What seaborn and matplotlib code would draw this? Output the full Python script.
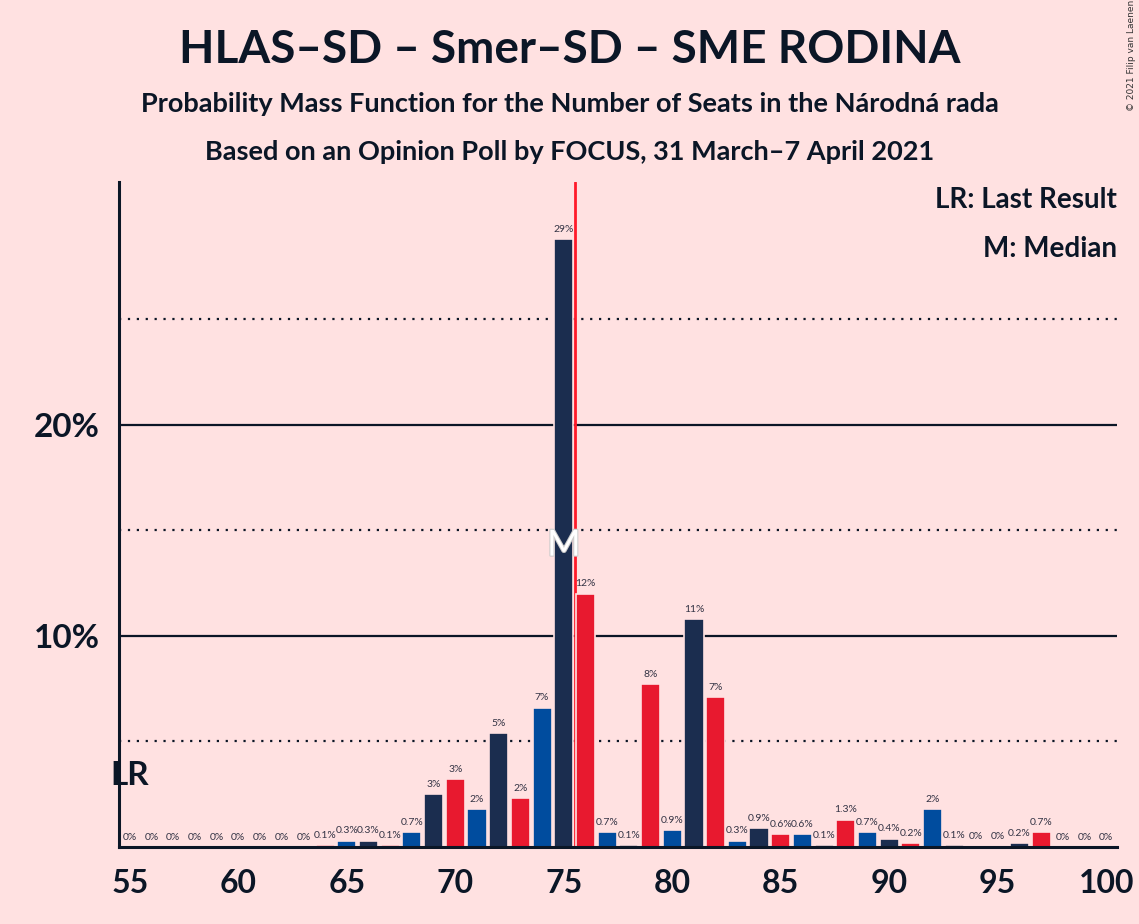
import matplotlib
matplotlib.use("Agg")
import matplotlib.pyplot as plt
import seaborn as sns
import pandas as pd
import matplotlib.patheffects as pe

seats = list(range(55, 101))
probs = [0, 0, 0, 0, 0, 0, 0, 0, 0, 0.1,
         0.3, 0.3, 0.1, 0.7, 2.5, 3.2, 1.8, 5.4, 2.3, 6.6,
         28.8, 12.0, 0.7, 0.1, 7.7, 0.8, 10.8, 7.1, 0.3, 0.9,
         0.6, 0.6, 0.1, 1.3, 0.7, 0.4, 0.2, 1.8, 0.1, 0.02,
         0.02, 0.2, 0.7, 0, 0, 0]
labels = ["0%", "0%", "0%", "0%", "0%", "0%", "0%", "0%", "0%", "0.1%",
          "0.3%", "0.3%", "0.1%", "0.7%", "3%", "3%", "2%", "5%", "2%", "7%",
          "29%", "12%", "0.7%", "0.1%", "8%", "0.9%", "11%", "7%", "0.3%", "0.9%",
          "0.6%", "0.6%", "0.1%", "1.3%", "0.7%", "0.4%", "0.2%", "2%", "0.1%", "0%",
          "0%", "0.2%", "0.7%", "0%", "0%", "0%"]
median_seat = 75
last_result_seat = 55
xtick_values = [55, 60, 65, 70, 75, 80, 85, 90, 95, 100]
ytick_values = [10, 20]

NAVY = "#1B2D4F"
RED = "#E8192F"
BLUE = "#004C9E"
BG = "#FFE1E1"
TXT = "#0B1626"
color_cycle = {0: NAVY, 1: RED, 2: BLUE}

sns.set_theme(style="white")
plt.rcParams["font.family"] = ["Lato", "DejaVu Sans"]

df = pd.DataFrame({"seat": [str(s) for s in seats], "p": probs})
palette = {str(s): color_cycle[s % 3] for s in seats}

fig = plt.figure(figsize=(11.39, 9.24), dpi=100, facecolor=BG)
ax = fig.add_axes([0.1045, 0.0833, 0.8762, 0.7197])
ax.set_facecolor(BG)

# gridlines
for y in [5, 15, 25]:
    ax.axhline(y, color=TXT, lw=1.6, ls=(0, (1, 3)), zorder=0)
for y in [10, 20]:
    ax.axhline(y, color=TXT, lw=1.6, zorder=0)

order = [str(s) for s in seats]
sns.barplot(data=df, x="seat", y="p", hue="seat", palette=palette, order=order,
            hue_order=order, legend=False, width=0.88, saturation=1,
            edgecolor=BG, linewidth=1.2, ax=ax, zorder=2)

# median line
mi = seats.index(median_seat)
ax.axvline(mi + 0.5, color="#FF1A2A", lw=2, zorder=1)
ax.text(mi, 14.3, "M", ha="center", va="center", fontsize=26, color="white",
        zorder=4, path_effects=[pe.withStroke(linewidth=1.5, foreground="#CCCCCC")])

# bar labels
for i, (v, lab) in enumerate(zip(probs, labels)):
    ax.text(i, v + 0.25, lab, ha="center", va="bottom", fontsize=7.5,
            color="#333344", zorder=5)

# Last result
li = seats.index(last_result_seat)
ax.text(li, 3.4, "LR", ha="center", va="center", fontsize=24,
        fontweight="bold", color=TXT, zorder=5)

ax.set_xlim(-0.5, len(seats) - 0.5)
ax.set_ylim(0, 31.5)
ax.set_xticks([seats.index(s) for s in xtick_values])
ax.set_xticklabels([str(s) for s in xtick_values], fontsize=23, fontweight="bold", color=TXT)
ax.set_yticks(ytick_values)
ax.set_yticklabels([f"{y}%" for y in ytick_values], fontsize=24, fontweight="bold", color=TXT)
ax.tick_params(axis="x", length=0, pad=16)
ax.tick_params(axis="y", length=0, pad=14)
ax.set_xlabel("")
ax.set_ylabel("")
for s in ["top", "right"]:
    ax.spines[s].set_visible(False)
for s in ["left", "bottom"]:
    ax.spines[s].set_color(TXT)
    ax.spines[s].set_linewidth(2.2)

ax.text(1.0, 0.973, "LR: Last Result", transform=ax.transAxes, ha="right", va="center",
        fontsize=20, fontweight="bold", color=TXT)
ax.text(1.0, 0.900, "M: Median", transform=ax.transAxes, ha="right", va="center",
        fontsize=20, fontweight="bold", color=TXT)

fig.text(0.5, 0.946, "HLAS–SD – Smer–SD – SME RODINA", ha="center", va="center",
         fontsize=33, fontweight="bold", color=TXT)
fig.text(0.5, 0.887, "Probability Mass Function for the Number of Seats in the Národná rada",
         ha="center", va="center", fontsize=19.5, fontweight="bold", color=TXT)
fig.text(0.5, 0.835, "Based on an Opinion Poll by FOCUS, 31 March–7 April 2021",
         ha="center", va="center", fontsize=19.5, fontweight="bold", color=TXT)
fig.text(0.993, 0.94, "© 2021 Filip van Laenen", ha="center", va="center",
         rotation=90, fontsize=6.5, color="#333333", family=["DejaVu Sans"])

fig.savefig("out.png", dpi=100, facecolor=BG)
